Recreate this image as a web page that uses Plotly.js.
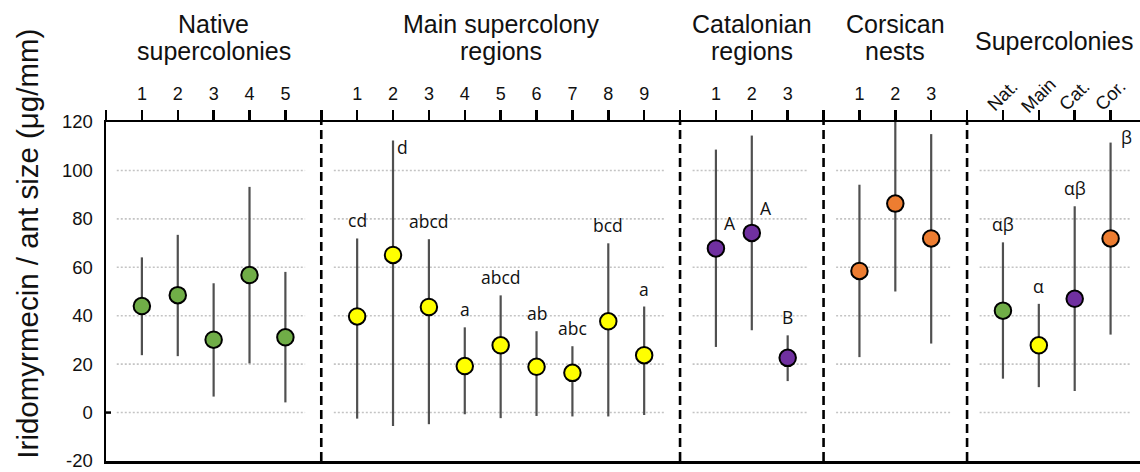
<!DOCTYPE html>
<html><head><meta charset="utf-8">
<script src="https://cdn.plot.ly/plotly-3.0.1.min.js"></script>
<style>html,body{margin:0;padding:0;background:#fff;} #chart{width:1140px;height:472px;}</style>
</head><body><div id="chart"></div>
<script>
// ---------------- data ----------------
const groupTitles = [['Native', 'supercolonies'], ['Main supercolony', 'regions'], ['Catalonian', 'regions'], ['Corsican', 'nests'], ['Supercolonies']];

const nativeLabels = ['1', '2', '3', '4', '5'];
const nativeMean  = [44.0, 48.5, 30.1, 56.8, 31.1];
const nativeUpper = [64.1, 73.4, 53.4, 93.2, 58.1];
const nativeLower = [23.7, 23.3, 6.6, 20.3, 4.2];
const nativeLetters = ['', '', '', '', ''];

const mainLabels = ['1', '2', '3', '4', '5', '6', '7', '8', '9'];
const mainMean  = [39.7, 65.1, 43.6, 19.2, 27.8, 18.9, 16.4, 37.7, 23.7];
const mainUpper = [71.9, 112.4, 71.6, 35.2, 48.4, 33.6, 27.4, 69.9, 43.8];
const mainLower = [-2.5, -5.5, -4.8, -0.7, -2.3, -1.4, -1.6, -1.6, -1.0];
const mainLetters = ['cd', 'd', 'abcd', 'a', 'abcd', 'ab', 'abc', 'bcd', 'a'];

const catLabels = ['1', '2', '3'];
const catMean  = [67.8, 74.2, 22.6];
const catUpper = [108.6, 114.4, 31.9];
const catLower = [27.1, 34.0, 13.0];
const catLetters = ['A', 'A', 'B'];

const corLabels = ['1', '2', '3'];
const corMean  = [58.5, 86.3, 71.9];
const corUpper = [94.1, 121.0, 115.0];
const corLower = [22.9, 50.0, 28.5];
const corLetters = ['', '', ''];

const supLabels = ['Nat.', 'Main', 'Cat.', 'Cor.'];
const supMean  = [42.1, 27.8, 47.0, 71.9];
const supUpper = [70.3, 44.9, 85.2, 111.5];
const supLower = [14.0, 10.5, 8.9, 32.2];
const supLetters = ['αβ', 'α', 'αβ', 'β'];

const yTickVals = [-20, 0, 20, 40, 60, 80, 100, 120];
const yTickText = ['-20', '0', '20', '40', '60', '80', '100', '120'];
const yTitle = 'Iridomyrmecin / ant size (μg/mm)';

// ---------------- styling / layout ----------------
const FONT = 'Liberation Sans, Arial, sans-serif';
const GREEN = '#70AD47', YELLOW = '#FFFF00', PURPLE = '#7030A0', ORANGE = '#ED7D31';
const groups = [
  {key: 'native', labels: nativeLabels, mean: nativeMean, upper: nativeUpper, lower: nativeLower, letters: nativeLetters, colors: nativeMean.map(() => GREEN)},
  {key: 'main', labels: mainLabels, mean: mainMean, upper: mainUpper, lower: mainLower, letters: mainLetters, colors: mainMean.map(() => YELLOW)},
  {key: 'cat', labels: catLabels, mean: catMean, upper: catUpper, lower: catLower, letters: catLetters, colors: catMean.map(() => PURPLE)},
  {key: 'cor', labels: corLabels, mean: corMean, upper: corUpper, lower: corLower, letters: corLetters, colors: corMean.map(() => ORANGE)},
  {key: 'sup', labels: supLabels, mean: supMean, upper: supUpper, lower: supLower, letters: supLetters, colors: [GREEN, YELLOW, PURPLE, ORANGE]}
];
const letterPlacement = {main: {1: 'topright'}, cat: {0: 'right', 1: 'right'}, sup: {3: 'topright2'}};

const XMAX = 28.82;
const traces = [], annotations = [], shapes = [];
const tickVals = [0], tickText = [''];
let pos = 0;
const dividers = [];
groups.forEach((g, gi) => {
  const start = pos;
  const xs = g.labels.map((_, i) => start + 1 + i);
  xs.forEach((x, i) => {
    tickVals.push(x);
    if (g.key === 'sup') {
      tickText.push('');
      annotations.push({xref: 'x', yref: 'paper', x: x, y: 1, xanchor: 'center', yanchor: 'middle',
        xshift: -1, yshift: 27, textangle: -45, text: g.labels[i], showarrow: false,
        font: {family: FONT, size: 18.5, color: '#111'}});
    } else tickText.push(g.labels[i]);
  });
  pos = start + g.labels.length + 1;
  const end = gi < groups.length - 1 ? pos : XMAX;
  if (gi < groups.length - 1) { dividers.push(pos); tickVals.push(pos); tickText.push(''); }

  traces.push({
    type: 'scatter', mode: 'markers', x: xs, y: g.mean,
    error_y: {type: 'data', symmetric: false,
      array: g.upper.map((u, i) => u - g.mean[i]),
      arrayminus: g.mean.map((m, i) => m - g.lower[i]),
      color: '#505050', thickness: 2.2, width: 0},
    marker: {size: 16.5, color: g.colors, line: {color: '#000', width: 2}},
    hoverinfo: 'x+y', showlegend: false, cliponaxis: true
  });

  // letters
  g.letters.forEach((t, i) => {
    if (!t) return;
    const p = (letterPlacement[g.key] || {})[i] || 'above';
    const a = {xref: 'x', yref: 'y', x: xs[i], text: t, showarrow: false,
      font: {family: 'Open Sans, sans-serif', size: 17.5, color: '#111'}};
    if (p === 'above') { Object.assign(a, {y: g.upper[i], yanchor: 'bottom', xanchor: 'center', yshift: 4}); }
    else if (p === 'right') { Object.assign(a, {y: g.mean[i], yanchor: 'middle', xanchor: 'left', xshift: 6, yshift: 25}); }
    else if (p === 'topright') { Object.assign(a, {y: g.upper[i], yanchor: 'middle', xanchor: 'left', xshift: 2, yshift: -7}); }
    else { Object.assign(a, {y: g.upper[i], yanchor: 'middle', xanchor: 'left', xshift: 8, yshift: 6}); }
    annotations.push(a);
  });

  // group title (one annotation per line for tight line spacing)
  const lines = groupTitles[gi];
  const centers = lines.length === 2 ? [23.5, 51] : [41];
  lines.forEach((ln, li) => {
    annotations.push({xref: 'x', yref: 'paper', x: (start + end) / 2, y: 1,
      yanchor: 'middle', xanchor: 'center', yshift: 122 - centers[li], borderpad: 0,
      text: ln, showarrow: false,
      font: {family: FONT, size: 25, color: '#111'}});
  });

  // dotted gridlines within panel
  const gx0 = start + (start === 0 ? 0.3 : 0.35);
  const gx1 = gi < groups.length - 1 ? end - 0.45 : end - 0.25;
  [0, 20, 40, 60, 80, 100].forEach(v => {
    shapes.push({type: 'line', xref: 'x', yref: 'y', x0: gx0, x1: gx1, y0: v, y1: v,
      line: {color: '#c4c4c4', width: 1.6, dash: '2px,2px'}, layer: 'below'});
  });
});

// dashed dividers
dividers.forEach(d => {
  shapes.push({type: 'line', xref: 'x', yref: 'y', x0: d, x1: d, y0: -20, y1: 120,
    line: {color: '#000', width: 2.6, dash: '9px,5px'}, layer: 'above'});
});
// cross tick at y = 0 on the y axis
shapes.push({type: 'line', xref: 'x', yref: 'y', xsizemode: 'pixel', xanchor: 0, x0: -5, x1: 5, y0: 0, y1: 0,
  line: {color: '#000', width: 2.5}});

// y axis title
annotations.push({xref: 'paper', yref: 'paper', x: -0.0768, y: 0.64, xanchor: 'center', yanchor: 'middle',
  textangle: -90, text: yTitle, showarrow: false,
  font: {family: FONT, size: 29.5, color: '#111'}});

const layout = {
  width: 1140, height: 472,
  margin: {l: 105.5, r: 0, t: 122, b: 10.5},
  paper_bgcolor: '#fff', plot_bgcolor: '#fff',
  showlegend: false,
  xaxis: {side: 'top', range: [0, XMAX], tickmode: 'array', tickvals: tickVals, ticktext: tickText,
    ticks: 'outside', ticklen: 10, tickwidth: 2.5, tickcolor: '#000', ticklabelstandoff: 2,
    showline: true, linewidth: 2.5, linecolor: '#000', mirror: true,
    showgrid: false, zeroline: false, tickangle: 0, ticklabeloverflow: 'allow',
    tickfont: {family: FONT, size: 18, color: '#111'}},
  yaxis: {range: [-20, 120], tickmode: 'array', tickvals: yTickVals, ticktext: yTickText,
    ticks: 'outside', ticklen: 7, tickcolor: 'rgba(0,0,0,0)', ticklabeloverflow: 'allow',
    showline: true, linewidth: 2.5, linecolor: '#000',
    showgrid: false, zeroline: false,
    tickfont: {family: FONT, size: 18.5, color: '#111'}},
  shapes: shapes, annotations: annotations
};
Plotly.newPlot('chart', traces, layout, {displayModeBar: false, staticPlot: true});
</script></body></html>
